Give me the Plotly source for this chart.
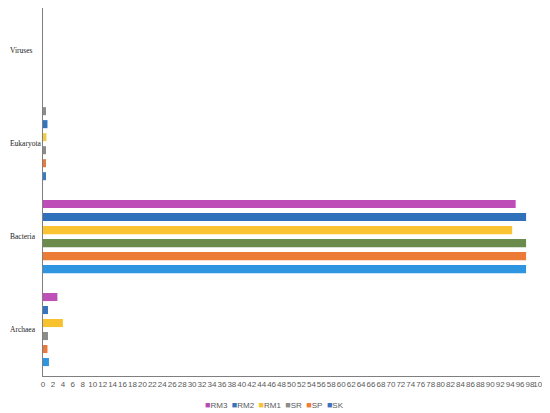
import plotly.graph_objects as go

categories = ["Archaea", "Bacteria", "Eukaryota", "Viruses"]
series = ["SK", "SP", "SR", "RM1", "RM2", "RM3"]  # bottom-to-top within each group
legend_order = ["RM3", "RM2", "RM1", "SR", "SP", "SK"]

values = {
    "SK":  [1.2, 97.2, 0.6, 0.0],
    "SP":  [0.9, 97.2, 0.6, 0.0],
    "SR":  [1.0, 97.2, 0.6, 0.0],
    "RM1": [4.0, 94.4, 0.7, 0.0],
    "RM2": [1.0, 97.2, 0.9, 0.0],
    "RM3": [2.9, 95.1, 0.6, 0.0],
}

legend_colors = {
    "SK": "#3F6FC0", "SP": "#ED7D31", "SR": "#8C8C8C",
    "RM1": "#F9C332", "RM2": "#3274BE", "RM3": "#B64BB3",
}
bar_colors = {
    "SK":  ["#2E95E0", "#2E95E0", "#3A7CC4", "#2E95E0"],
    "SP":  ["#E97A3C", "#EB7B36", "#E97A3C", "#E97A3C"],
    "SR":  ["#8C8C8C", "#6A8B4C", "#8C8C8C", "#8C8C8C"],
    "RM1": ["#F8C12E", "#F9C332", "#F0CC4A", "#F9C332"],
    "RM2": ["#3274BE", "#2F71BB", "#3274BE", "#3274BE"],
    "RM3": ["#BE51B7", "#BE4DB8", "#8C8C8C", "#BE51B7"],
}

x_ticks = list(range(0, 101, 2))

fig = go.Figure()
for s in series:
    fig.add_trace(go.Bar(
        y=categories, x=values[s], name=s, orientation="h",
        marker=dict(color=bar_colors[s], line=dict(width=0)),
        showlegend=False,
    ))

legend_text = "&nbsp;&nbsp;".join(
    f"<span style='color:{legend_colors[s]}; font-size:9px'>■</span>{s}" for s in legend_order
)

annotations = [dict(
    text=legend_text, xref="paper", yref="paper", x=0.465, y=-0.079,
    xanchor="center", yanchor="middle", showarrow=False,
    font=dict(family="Liberation Sans, sans-serif", size=8, color="#595959"),
)]
# left-aligned category labels, as in the reference
for c in categories:
    annotations.append(dict(
        text=c, xref="paper", yref="y", x=-0.0704, y=c,
        xanchor="left", yanchor="middle", showarrow=False,
        font=dict(family="Liberation Serif, Times New Roman, serif", size=7.5, color="#222222"),
    ))

# page body has an 8px default margin, so the figure is sized to fill the rest
fig.update_layout(
    width=542, height=405,
    barmode="group", bargap=0.16, bargroupgap=0.38,
    plot_bgcolor="white", paper_bgcolor="white",
    margin=dict(l=35, r=10, t=0, b=37, autoexpand=False),
    xaxis=dict(
        range=[0, 100], tickmode="array", tickvals=x_ticks,
        ticktext=[str(v) for v in x_ticks], automargin=False,
        showgrid=False, zeroline=False, showline=True,
        linecolor="#7F7F7F", linewidth=1, ticks="",
        tickfont=dict(family="Liberation Sans Narrow, Arial Narrow, Liberation Sans, sans-serif", size=8, color="#595959"),
        tickangle=0,
    ),
    yaxis=dict(
        range=[-0.5, 3.46], showticklabels=False,
        showgrid=False, zeroline=False, showline=True, automargin=False,
        linecolor="#7F7F7F", linewidth=1, ticks="",
        categoryorder="array", categoryarray=categories,
    ),
    showlegend=False,
    annotations=annotations,
)

fig.write_html("out.html")
